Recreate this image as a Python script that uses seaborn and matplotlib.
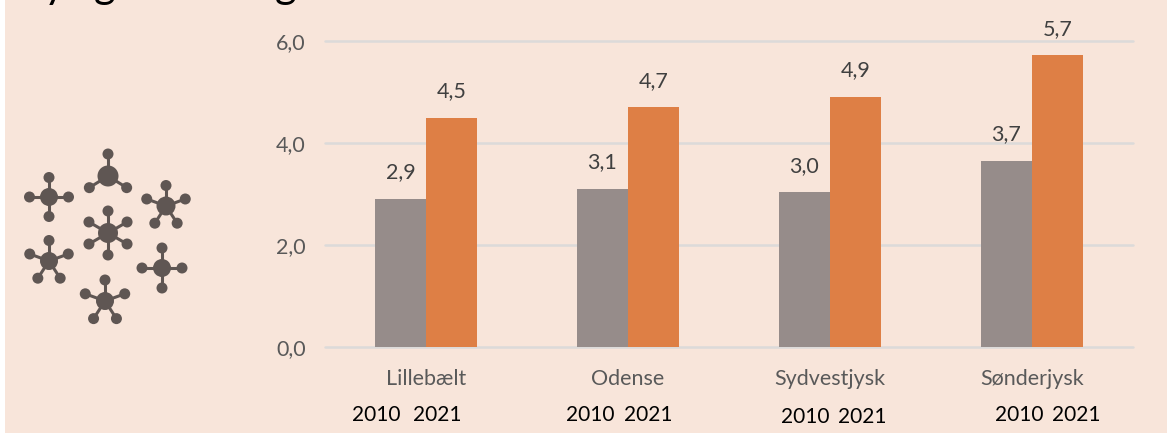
import numpy as np
import pandas as pd
import matplotlib
matplotlib.use("Agg")
import matplotlib.pyplot as plt
import seaborn as sns

W, H = 1167, 436
categories = ["Lillebælt", "Odense", "Sydvestjysk", "Sønderjysk"]
years = ["2010", "2021"]
values_2010 = [2.9, 3.1, 3.03, 3.65]
values_2021 = [4.5, 4.7, 4.9, 5.72]
labels_2010 = ["2,9", "3,1", "3,0", "3,7"]
labels_2021 = ["4,5", "4,7", "4,9", "5,7"]
y_ticks = [0, 2, 4, 6]
y_tick_labels = ["0,0", "2,0", "4,0", "6,0"]
year_label_rows = [(352, 413, 415), (566, 624, 415), (781, 838, 417), (995, 1052, 415)]

BG = "#F8E5DA"
GREY = "#968C8A"
ORANGE = "#DE7F45"
GRID = "#DCDAD9"
TXT = "#595959"
MOL = "#5F5653"

sns.set_theme(style="white")
plt.rcParams["font.family"] = ["Lato", "DejaVu Sans"]

df = pd.DataFrame({
    "region": categories * 2,
    "year": [years[0]] * 4 + [years[1]] * 4,
    "value": values_2010 + values_2021,
})

fig = plt.figure(figsize=(W / 100, H / 100), dpi=100, facecolor="white")
bg = fig.add_axes([5 / W, 1 - 433 / H, (W - 5) / W, 433 / H], facecolor=BG)
bg.set_xticks([]); bg.set_yticks([])
for s in bg.spines.values():
    s.set_visible(False)

ax = fig.add_axes([325 / W, 1 - 347 / H, (1133 - 325) / W, (347 - 41) / H], facecolor="none")
sns.barplot(data=df, x="region", y="value", hue="year", order=categories, hue_order=years,
            palette=[GREY, ORANGE], width=0.506, gap=0, saturation=1, legend=False, ax=ax,
            zorder=3, linewidth=0, edgecolor="none")
ax.set_xlim(-0.5, 3.5)
ax.set_ylim(0, 6)
ax.set_xlabel(""); ax.set_ylabel("")
ax.set_yticks(y_ticks, y_tick_labels)
ax.yaxis.grid(True, color=GRID, lw=1.8, zorder=0)
for gl in ax.get_ygridlines():
    gl.set_clip_on(False)
ax.set_axisbelow(True)
ax.tick_params(axis="y", length=0, pad=14, labelsize=15.5, labelcolor=TXT)
ax.tick_params(axis="x", length=0, pad=16, labelsize=15.5, labelcolor=TXT)
for s in ax.spines.values():
    s.set_visible(False)

for cont, labs in zip(ax.containers, [labels_2010, labels_2021]):
    ax.bar_label(cont, labels=labs, padding=12, fontsize=15.5, color="#404040", clip_on=False)

for x1, x2, y in year_label_rows:
    for x, t in zip((x1, x2), years):
        fig.text(x / W, 1 - y / H, t, fontsize=15, color="black", ha="left", va="center")

# title, cropped by the top edge: only descenders remain visible
for x, ch in [(54, "y"), (105, "g"), (286, "g")]:
    fig.text(x / W, 1 + 2 / H, ch, fontsize=30, color="black", ha="center", va="baseline")

# molecule icon
ic = fig.add_axes([0, 0, 1, 1], facecolor="none")
ic.set_xlim(0, W); ic.set_ylim(H, 0); ic.axis("off")
molecules = [
    (49, 197, 9, 19.5, [90, 180, 270, 0]),
    (108, 176, 10.5, 22, [90, 212, 328]),
    (166, 206, 9.5, 20.5, [90, 160, 20, 237, 303]),
    (108, 233, 10, 22, [90, 150, 30, 210, 330, 270]),
    (49, 261, 9, 20.5, [90, 160, 20, 237, 303]),
    (162, 268, 9, 20, [90, 180, 270, 0]),
    (105, 301, 9, 21, [90, 160, 20, 237, 303]),
]
for cx, cy, r, L, angs in molecules:
    for a in angs:
        dx, dy = np.cos(np.radians(a)), -np.sin(np.radians(a))
        ic.plot([cx, cx + L * dx], [cy, cy + L * dy], color=MOL, lw=2.2, solid_capstyle="round")
        ic.add_patch(plt.Circle((cx + L * dx, cy + L * dy), 5.5, color=MOL, lw=0))
    ic.add_patch(plt.Circle((cx, cy), r, color=MOL, lw=0))

fig.savefig("out.png", dpi=100, facecolor="white")
